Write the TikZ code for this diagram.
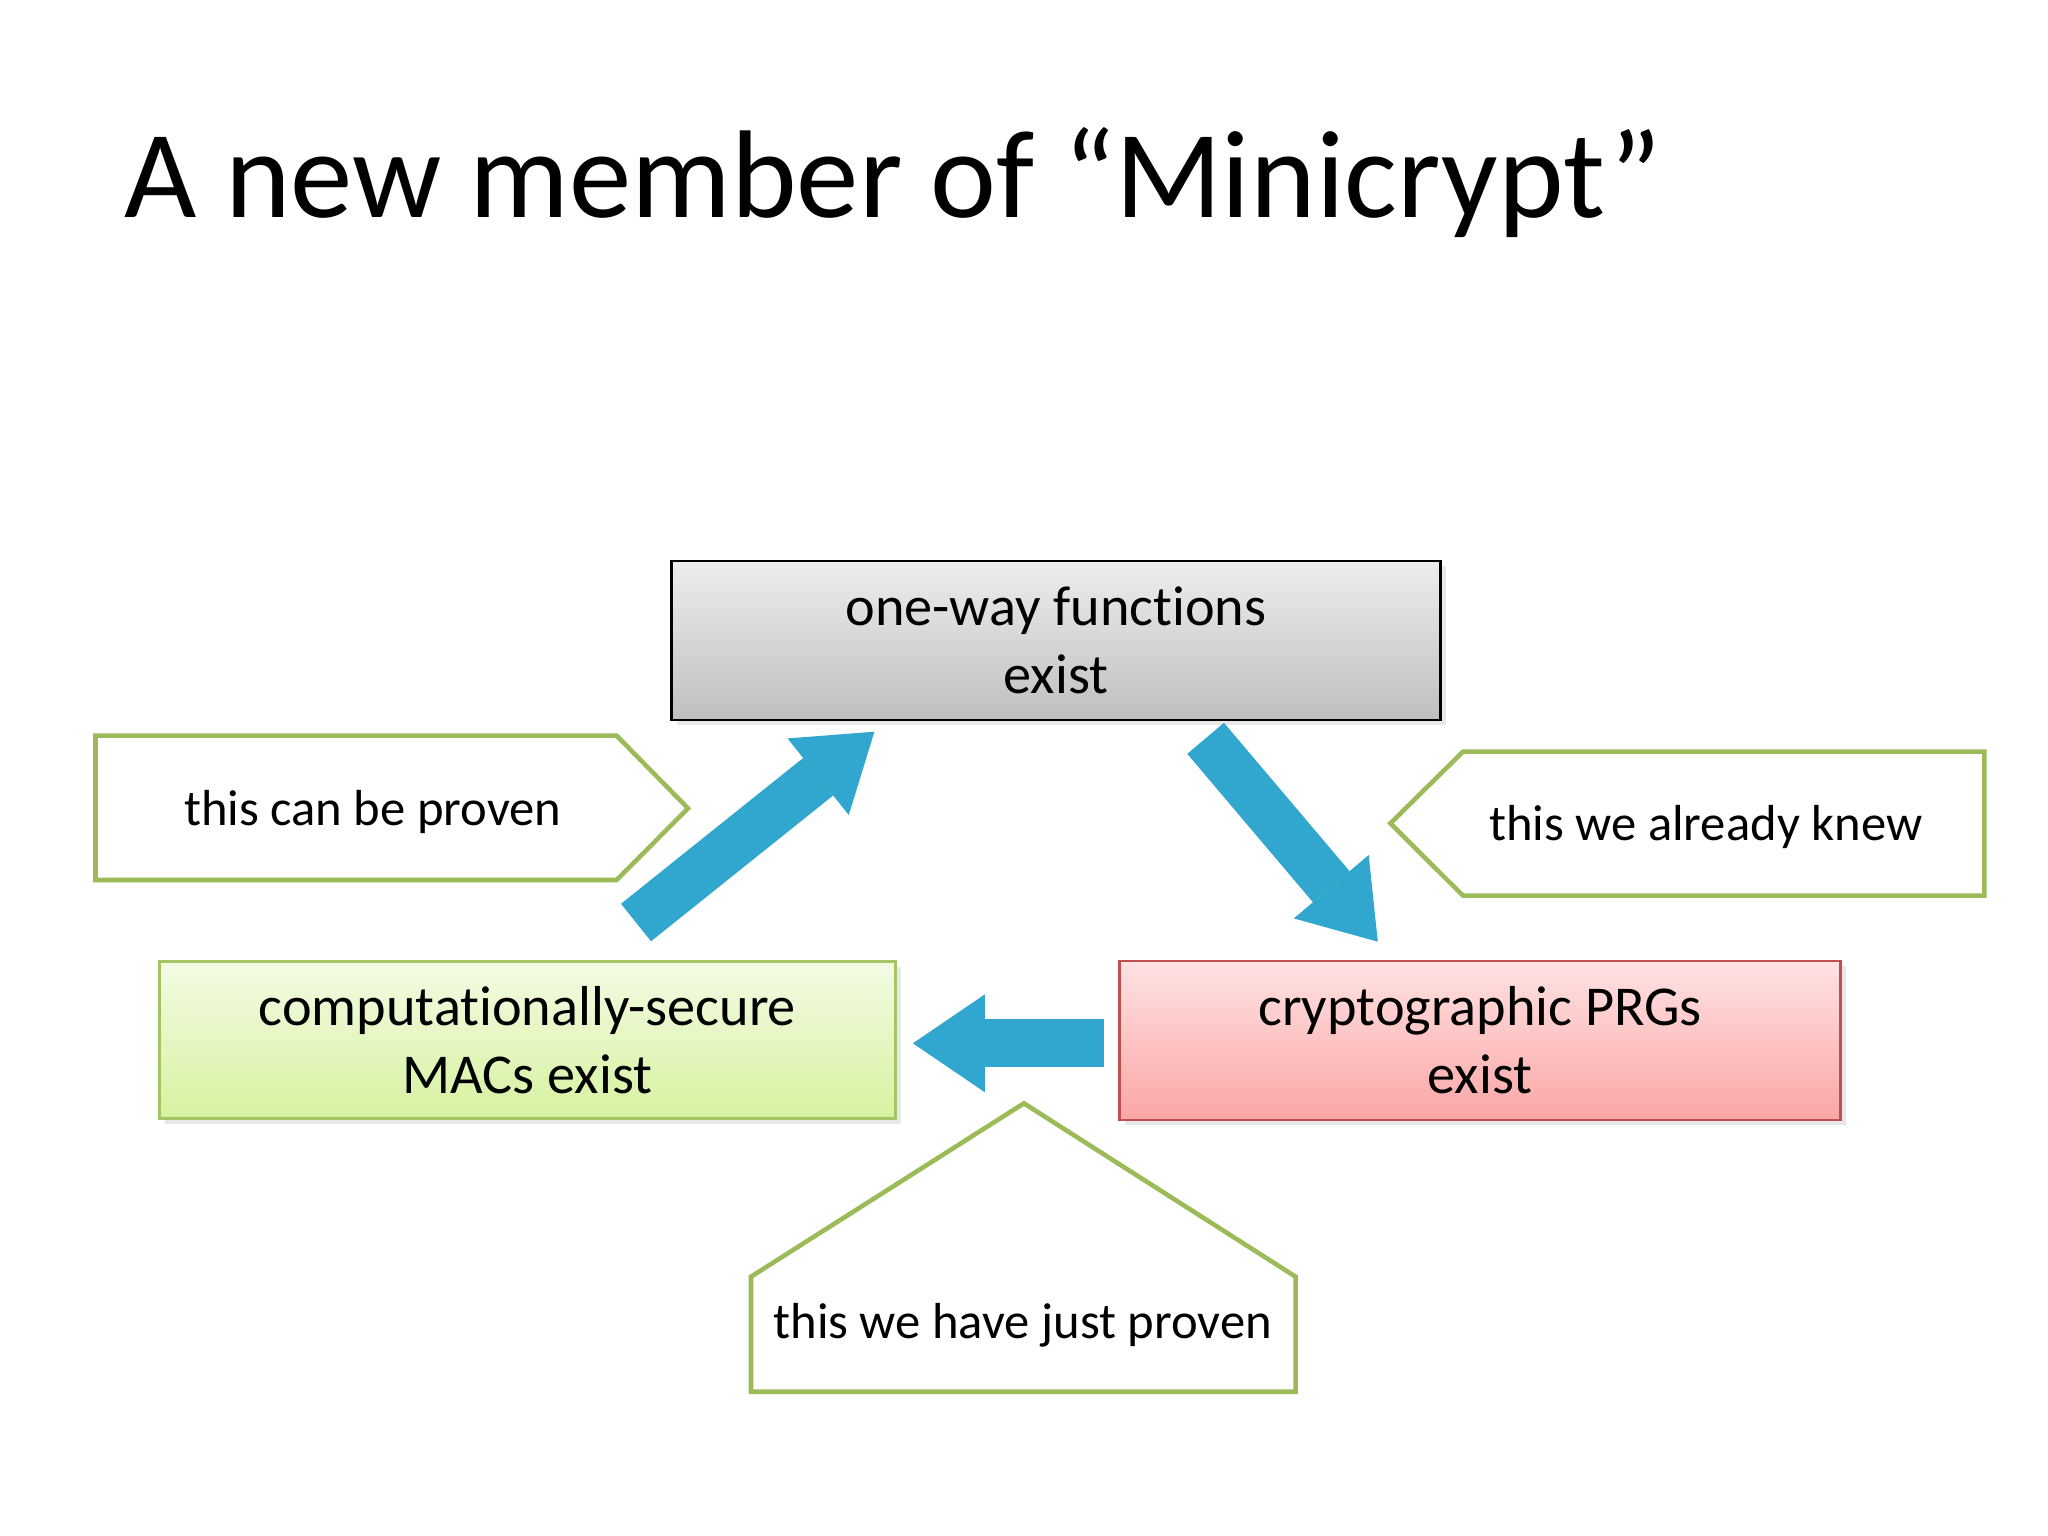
\documentclass[tikz,border=0pt]{standalone}
\usepackage{fontspec}
\setmainfont{Carlito}[Ligatures=NoCommon]
\usetikzlibrary{arrows.meta,shadows}

\definecolor{notegreen}{RGB}{155,187,89}
\definecolor{macline}{RGB}{163,198,98}
\definecolor{prgline}{RGB}{192,80,77}
\definecolor{flowblue}{RGB}{49,166,206}

\tikzset{
  claim/.style={draw, line width=0.8pt, align=center, inner sep=0pt,
    font=\fontsize{16}{19.3}\selectfont,
    drop shadow={shadow xshift=1.5pt, shadow yshift=-1.5pt, opacity=0.18}},
  owfbox/.style={claim, draw=black, top color=black!7, bottom color=black!25},
  macbox/.style={claim, draw=macline, top color={rgb,255:red,244;green,251;blue,228}, bottom color={rgb,255:red,214;green,242;blue,160}},
  prgbox/.style={claim, draw=prgline, top color={rgb,255:red,255;green,226;blue,226}, bottom color={rgb,255:red,251;green,166;blue,166}},
  note/.style={draw=notegreen, fill=white, line width=1.3pt},
  notetext/.style={anchor=base, inner sep=0pt, font=\fontsize{14.4}{17}\selectfont},
  flow/.style={draw=flowblue, line width=0.48cm,
    -{Triangle[width=0.98cm, length=0.72cm, line width=0pt]}}
}

\begin{document}
\begin{tikzpicture}[x=0.01cm, y=-0.01cm]
  \fill[white] (0,0) rectangle (2048,1536);
  \useasboundingbox (0,0) rectangle (2048,1536);

  % title
  \node[anchor=base west, inner sep=0pt, font=\fontsize{35.5}{42}\selectfont] (title) at (124,217) {A new member of “Minicrypt”};

  % claims
  \node[owfbox, minimum width=7.69cm, minimum height=1.59cm] (owf) at (1056,640.5) {one-way functions\\exist};
  \node[macbox, minimum width=7.36cm, minimum height=1.57cm] (mac) at (527.5,1040) {computationally-secure\\MACs exist};
  \node[prgbox, minimum width=7.21cm, minimum height=1.59cm] (prg) at (1480,1040.5) {cryptographic PRGs\\exist};

  % callouts
  \draw[note] (95.5,735.7) -- (616.7,735.7) -- (688,808.3) -- (616.7,880) -- (95.5,880) -- cycle;
  \draw[note] (1390.4,823.3) -- (1463,751.7) -- (1984.3,751.7) -- (1984.3,895.7) -- (1463,895.7) -- cycle;
  \draw[note] (1023.9,1103.3) -- (1295.6,1276.7) -- (1295.6,1391.7) -- (751,1391.7) -- (751,1276.7) -- cycle;
  \node[notetext] (canprove) at (372.8,825) {this can be proven};
  \node[notetext] (knew) at (1705.7,840) {this we already knew};
  \node[notetext] (justproven) at (1022.7,1338) {this we have just proven};

  % arrows
  \coordinate (macout) at (636,922.5);
  \coordinate (owfin) at (874.4,731.7);
  \coordinate (owfout) at (1205.6,738.3);
  \coordinate (prgin) at (1377.8,941.7);
  \coordinate (prgout) at (1104,1043.3);
  \coordinate (macin) at (912.9,1043.3);
  \draw[flow] (macout) -- (owfin);
  \draw[flow] (owfout) -- (prgin);
  \draw[flow] (prgout) -- (macin);
\end{tikzpicture}
\end{document}
